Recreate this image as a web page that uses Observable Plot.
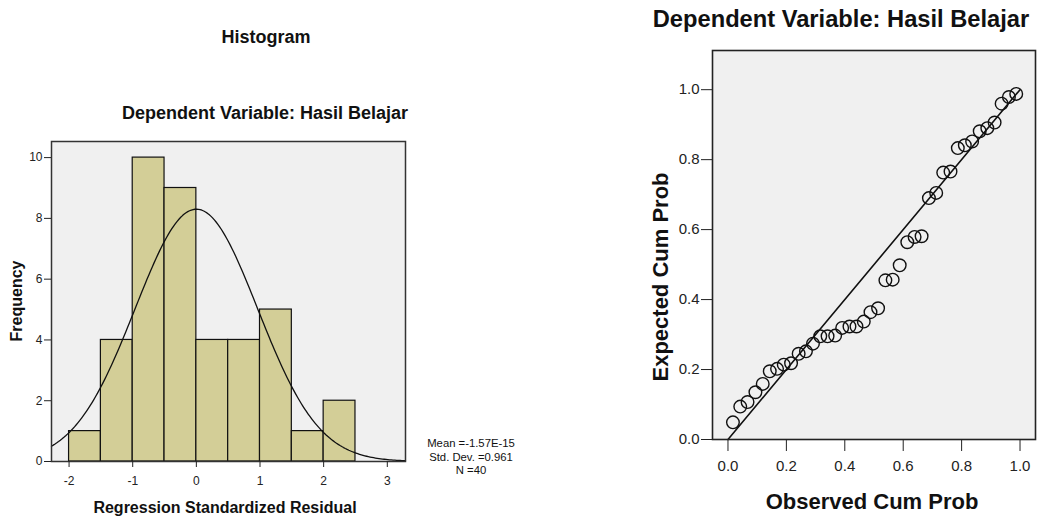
<!DOCTYPE html>
<html>
<head>
<meta charset="utf-8">
<script src="https://cdn.jsdelivr.net/npm/d3@7"></script>
<script src="https://cdn.jsdelivr.net/npm/@observablehq/plot@0.6"></script>
<style>
  html, body { margin: 0; padding: 0; background: #fff; }
  #wrap { position: relative; width: 1037px; height: 518px; overflow: hidden; font-family: "Liberation Sans", Arial, sans-serif; }
  #wrap > * { position: absolute; }
  #overlay { left: 0; top: 0; pointer-events: none; }
</style>
</head>
<body>
<div id="wrap"></div>
<script>
// ---------- Histogram data ----------
const binStarts = [-2, -1.5, -1, -0.5, 0, 0.5, 1, 1.5, 2];
const binWidth = 0.5;
const binCounts = [1, 4, 10, 9, 4, 4, 5, 1, 2];
const histXTicks = [-2, -1, 0, 1, 2, 3];
const histYTicks = [0, 2, 4, 6, 8, 10];
const residMean = -1.57e-15;
const residSD = 0.961;
const residN = 40;
const statsLines = ["Mean =-1.57E-15", "Std. Dev. =0.961", "N =40"];

// ---------- P-P plot data ----------
const observedCum = [0.017, 0.042, 0.067, 0.094, 0.119, 0.143, 0.168, 0.191, 0.216, 0.242,
  0.267, 0.291, 0.316, 0.341, 0.367, 0.391, 0.416, 0.440, 0.465, 0.488,
  0.514, 0.539, 0.564, 0.588, 0.614, 0.639, 0.663, 0.688, 0.713, 0.737,
  0.762, 0.787, 0.811, 0.836, 0.862, 0.888, 0.913, 0.937, 0.962, 0.987];
const expectedCum = [0.049, 0.094, 0.107, 0.135, 0.159, 0.195, 0.202, 0.214, 0.218, 0.245,
  0.252, 0.274, 0.295, 0.295, 0.297, 0.319, 0.323, 0.323, 0.337, 0.364,
  0.375, 0.455, 0.457, 0.498, 0.564, 0.579, 0.581, 0.690, 0.705, 0.763,
  0.766, 0.833, 0.841, 0.852, 0.881, 0.890, 0.906, 0.960, 0.979, 0.988];
const refLine = [0, 1];
const ppTicks = [0, 0.2, 0.4, 0.6, 0.8, 1.0];

const FONT = '"Liberation Sans", Arial, sans-serif';
const wrap = document.getElementById("wrap");

// ---------- Histogram ----------
const bins = binStarts.map((s, i) => ({x1: s, x2: s + binWidth, count: binCounts[i]}));
const xDom = [-2.276, 3.286];
const curve = d3.range(0, 201).map(i => {
  const x = xDom[0] + (xDom[1] - xDom[0]) * i / 200;
  const z = (x - residMean) / residSD;
  return {x, y: residN * binWidth * Math.exp(-0.5 * z * z) / (residSD * Math.sqrt(2 * Math.PI))};
});

const hist = Plot.plot({
  width: 420, height: 518,
  marginLeft: 51, marginRight: 15, marginTop: 141, marginBottom: 57,
  style: {fontFamily: FONT, fontSize: "12px", background: "transparent", color: "#222", overflow: "visible"},
  x: {domain: xDom},
  y: {domain: [0, 10.53]},
  marks: [
    Plot.frame({fill: "#f0f0f0", stroke: "none"}),
    Plot.rectY(bins, {x1: "x1", x2: "x2", y: "count", fill: "#d3ce97", stroke: "#111", strokeWidth: 1.2}),
    Plot.line(curve, {x: "x", y: "y", stroke: "#111", strokeWidth: 1.3}),
    Plot.frame({stroke: "#333", strokeWidth: 1.5}),
    Plot.axisX({ticks: histXTicks, tickFormat: d => String(d), tickSize: 6, tickPadding: 9, label: null, fontSize: 12, stroke: "#222"}),
    Plot.axisY({ticks: histYTicks, tickFormat: d => String(d), tickSize: 7, tickPadding: 2, label: null, fontSize: 12, stroke: "#222"})
  ]
});
hist.style.left = "0px"; hist.style.top = "0px";
wrap.appendChild(hist);

// ---------- P-P plot ----------
const ppData = observedCum.map((o, i) => ({o, e: expectedCum[i]}));
const pp = Plot.plot({
  width: 397, height: 518,
  marginLeft: 72, marginRight: 2, marginTop: 50, marginBottom: 79,
  style: {fontFamily: FONT, fontSize: "15px", background: "transparent", color: "#222", overflow: "visible"},
  x: {domain: [-0.053, 1.053]},
  y: {domain: [0, 1.112]},
  marks: [
    Plot.frame({fill: "#f0f0f0", stroke: "none"}),
    Plot.line(refLine.map(v => ({v})), {x: "v", y: "v", stroke: "#111", strokeWidth: 1.6}),
    Plot.dot(ppData, {x: "o", y: "e", r: 6.3, stroke: "#111", strokeWidth: 1.4, fill: "none"}),
    Plot.frame({stroke: "#222", strokeWidth: 1.6}),
    Plot.axisX({ticks: ppTicks, tickFormat: d3.format(".1f"), tickSize: 12, tickPadding: 9, label: null, fontSize: 15, stroke: "#222"}),
    Plot.axisY({ticks: ppTicks, tickFormat: d3.format(".1f"), tickSize: 11, tickPadding: 2, label: null, fontSize: 15, stroke: "#222"})
  ]
});
pp.style.left = "640px"; pp.style.top = "0px";
wrap.appendChild(pp);

// ---------- Titles, labels and stats (overlay text) ----------
const svg = d3.select(wrap).append("svg")
  .attr("id", "overlay").attr("width", 1037).attr("height", 518)
  .style("font-family", FONT).style("fill", "#111");

function txt(x, y, s, size, bold, rot) {
  const t = svg.append("text").attr("text-anchor", "middle")
    .attr("font-size", size).attr("font-weight", bold ? "bold" : "normal").text(s);
  if (rot) t.attr("transform", `translate(${x},${y}) rotate(-90)`);
  else t.attr("x", x).attr("y", y);
  return t;
}
txt(266, 43, "Histogram", 18, true);
txt(265, 119, "Dependent Variable: Hasil Belajar", 18, true);
txt(22, 301, "Frequency", 16, true, true);
txt(225, 513, "Regression Standardized Residual", 16, true);
statsLines.forEach((s, i) => txt(471, 447 + i * 13.5, s, 11.3, false));

txt(841, 27, "Dependent Variable: Hasil Belajar", 23.7, true);
txt(668, 277, "Expected Cum Prob", 22, true, true);
txt(872, 509, "Observed Cum Prob", 22, true);
</script>
</body>
</html>
